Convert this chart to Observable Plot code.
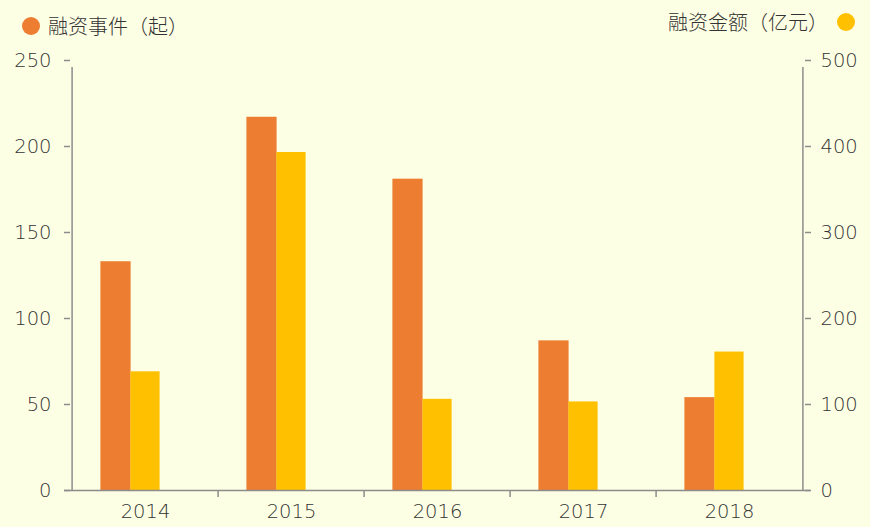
<!DOCTYPE html>
<html><head><meta charset="utf-8">
<script src="https://cdn.jsdelivr.net/npm/d3@7"></script>
<script src="https://cdn.jsdelivr.net/npm/@observablehq/plot@0.6"></script>
<style>
html,body{margin:0;padding:0;background:#FDFFE4;}
#wrap{width:870px;height:527px;position:relative;overflow:hidden;background:#FDFFE4;}
#legend{position:relative;height:44px;font-family:"Noto Sans CJK SC",sans-serif;font-size:20px;font-weight:300;color:#333;}
.item{position:absolute;display:flex;align-items:center;white-space:nowrap;line-height:20px;}
.dot{width:18px;height:18px;border-radius:50%;display:inline-block;}
.p{display:inline-block;width:1em;text-align:center;}
</style></head><body>
<div id="wrap"><div id="legend"></div><div id="chart"></div></div>
<script>
const years = ["2014", "2015", "2016", "2017", "2018"];
const events = [133, 217, 181, 87, 54];
const amounts = [138, 393, 106, 103, 161];
const leftTicks = [0, 50, 100, 150, 200, 250];
const rightTicks = [0, 100, 200, 300, 400, 500];
const seriesNames = ["融资事件（起）", "融资金额（亿元）"];
const colors = ["#ED7D31", "#FFC000"];

// legend: full-width brackets kept in a full em cell, centred
const fmt = s => Array.from(s).map(c => (c === "（" || c === "）") ? `<span class="p">${c}</span>` : c).join("");
const legend = document.getElementById("legend");
const l1 = document.createElement("div");
l1.className = "item";
l1.style.left = "22px"; l1.style.top = "16px";
l1.innerHTML = `<span class="dot" style="background:${colors[0]}"></span><span style="margin-left:8px">${fmt(seriesNames[0])}</span>`;
legend.appendChild(l1);
const l2 = document.createElement("div");
l2.className = "item";
l2.style.right = "15px"; l2.style.top = "12px";
l2.innerHTML = `<span>${fmt(seriesNames[1])}</span><span class="dot" style="background:${colors[1]};margin-left:9px"></span>`;
legend.appendChild(l2);

const W = 870, H = 483, ML = 70, MR = 66, MT = 16, MB = 37;
const ratio = rightTicks[rightTicks.length - 1] / leftTicks[leftTicks.length - 1];
const bw = (W - ML - MR) / years.length;
const half = bw / 2;
const barW = 30;
const axisColor = "#8c8c8c";
const textColor = "#333333";
const font = "DejaVu Sans";

const plot = Plot.plot({
  width: W, height: H,
  marginLeft: ML, marginRight: MR, marginTop: MT, marginBottom: MB,
  style: {background: "#FDFFE4", fontFamily: font, fontSize: "19.5px", fontWeight: 200, color: textColor},
  x: {type: "band", domain: years, padding: 0},
  y: {domain: [0, leftTicks[leftTicks.length - 1]]},
  marks: [
    Plot.barY(years, {x: d => d, y: (d, i) => events[i], fill: colors[0],
      insetLeft: half - 1.5 * barW, insetRight: half + barW / 2 - 1}),
    Plot.barY(years, {x: d => d, y: (d, i) => amounts[i] / ratio, fill: colors[1],
      insetLeft: half - barW / 2, insetRight: half - barW / 2}),
    // axis lines
    Plot.ruleY([0], {stroke: axisColor, strokeWidth: 1.5, insetLeft: -6, insetRight: -6}),
    Plot.ruleX([years[0]], {x: d => d, dx: -half, y1: 0, y2: leftTicks[leftTicks.length - 1], stroke: axisColor, strokeWidth: 1.5, insetBottom: -7}),
    Plot.ruleX([years[years.length - 1]], {x: d => d, dx: half, y1: 0, y2: leftTicks[leftTicks.length - 1], stroke: axisColor, strokeWidth: 1.5, insetBottom: -7}),
    Plot.ruleX(years.slice(1), {x: d => d, dx: -half, y1: 0, y2: 0, stroke: axisColor, strokeWidth: 1.5, insetBottom: -7}),
    Plot.axisX(years, {tickSize: 0, tickPadding: 14, fill: textColor, fontSize: 19.5}),
    Plot.axisY(leftTicks, {anchor: "left", tickSize: 6, tickPadding: 13, stroke: axisColor, strokeWidth: 1.5, fill: textColor, fontSize: 19.5}),
    Plot.axisY(leftTicks, {anchor: "right", tickSize: 6, tickPadding: 10, stroke: axisColor, strokeWidth: 1.5, fill: textColor, fontSize: 19.5,
      tickFormat: d => String(d * ratio)})
  ]
});
document.getElementById("chart").appendChild(plot);
</script>
</body></html>
